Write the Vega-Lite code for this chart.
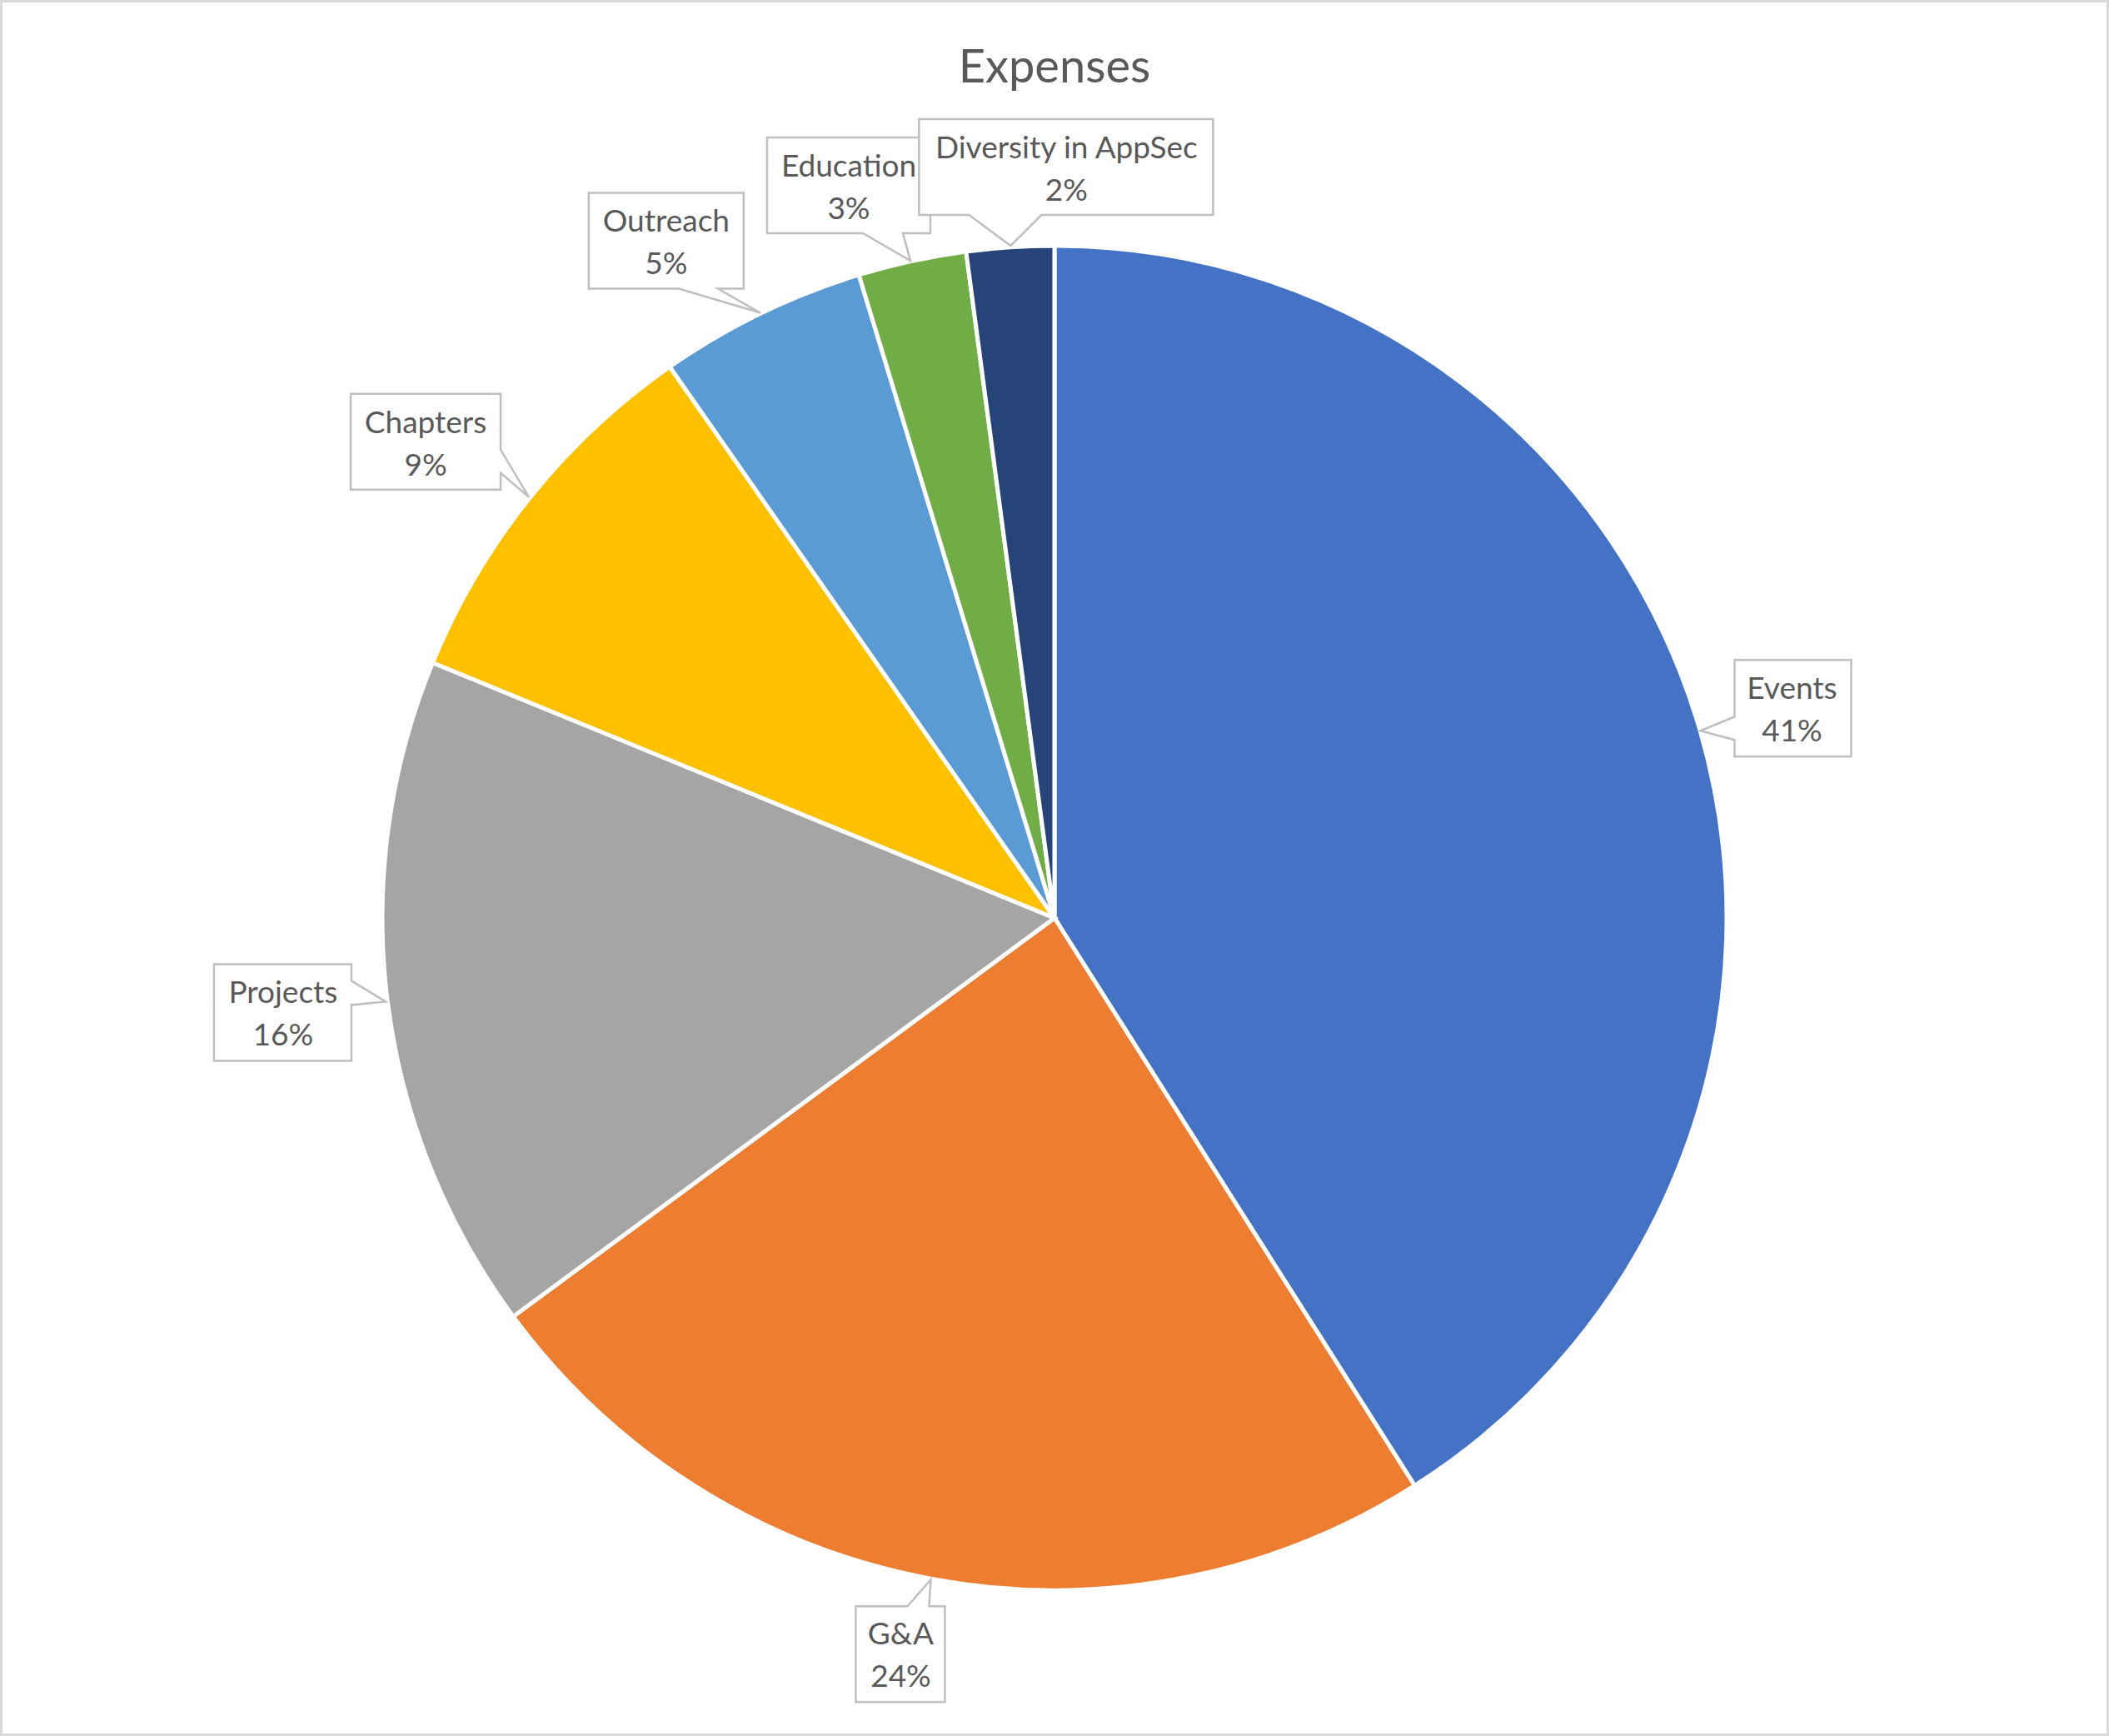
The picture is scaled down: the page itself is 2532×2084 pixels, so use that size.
{
  "$schema": "https://vega.github.io/schema/vega-lite/v6.json",
  "description": "Expenses pie chart with callout labels",
  "width": 2532,
  "height": 2084,
  "autosize": "none",
  "padding": 0,
  "background": "white",
  "title": {
    "text": "Expenses",
    "font": "Lato",
    "fontSize": 56,
    "fontWeight": "normal",
    "color": "#595959",
    "anchor": "middle",
    "baseline": "alphabetic",
    "offset": -155
  },
  "data": {
    "values": [
      {"category": "Events", "share": 0.410},
      {"category": "G&A", "share": 0.239},
      {"category": "Projects", "share": 0.163},
      {"category": "Chapters", "share": 0.091},
      {"category": "Outreach", "share": 0.050},
      {"category": "Education", "share": 0.026},
      {"category": "Diversity in AppSec", "share": 0.021}
    ]
  },
  "transform": [
    {"window": [{"op": "sum", "field": "share", "as": "cum"}], "sort": [{"field": "share", "order": "descending"}], "frame": [null, 0]},
    {"joinaggregate": [{"op": "sum", "field": "share", "as": "total"}]},
    {"calculate": "2 * PI * (datum.cum - datum.share / 2) / datum.total", "as": "mid"},
    {"calculate": "920 * sin(datum.mid)", "as": "lx"},
    {"calculate": "920 * cos(datum.mid)", "as": "ly"},
    {"calculate": "[datum.category, format(datum.share, '.0%')]", "as": "lines"}
  ],
  "layer": [
    {
      "mark": {"type": "arc", "outerRadius": 807, "stroke": "white", "strokeWidth": 5},
      "encoding": {
        "x": {"datum": 0, "type": "quantitative", "scale": {"domain": [-1266, 1266], "nice": false, "zero": false}, "axis": null},
        "y": {"datum": 0, "type": "quantitative", "scale": {"domain": [-982, 1102], "nice": false, "zero": false}, "axis": null},
        "theta": {"field": "share", "type": "quantitative", "stack": true},
        "order": {"field": "share", "sort": "descending"},
        "color": {
          "field": "category",
          "type": "nominal",
          "scale": {
            "domain": ["Events", "G&A", "Projects", "Chapters", "Outreach", "Education", "Diversity in AppSec"],
            "range": ["#4472C4", "#ED7D31", "#A5A5A5", "#FFC000", "#5B9BD5", "#70AD47", "#264478"]
          },
          "legend": null
        }
      }
    },
    {
      "mark": {"type": "point", "filled": true, "fill": "white", "stroke": "#bfbfbf", "strokeWidth": 2.5, "opacity": 1, "fillOpacity": 1, "strokeOpacity": 1, "size": 4},
      "encoding": {
        "x": {"field": "lx", "type": "quantitative", "axis": null},
        "y": {"field": "ly", "type": "quantitative", "axis": null},
        "shape": {
          "field": "category",
          "type": "nominal",
          "scale": {
            "domain": ["Events", "G&A", "Projects", "Chapters", "Outreach", "Education", "Diversity in AppSec"],
            "range": [
              "M-67,-53H73V63H-67V43L-108,32L-67,15Z",
              "M-69,-78H-7L21,-110L19,-78H38V37H-69Z",
              "M-96,-57H69V-37L110,-12L69,-8V59H-96Z",
              "M-127,-54H53V13L87,70L53,41V61H-127Z",
              "M-157,-43H29V72H-2L49,101L-49,72H-157Z",
              "M-150,-38H46V77H13L22,110L-35,77H-150Z",
              "M-102,-41H251V74H45L8,111L-42,74H-102Z"
            ]
          },
          "legend": null
        }
      }
    },
    {
      "transform": [{"filter": "datum.category === 'Events'"}],
      "mark": {"type": "text", "font": "Lato", "fontSize": 37, "color": "#595959", "lineHeight": 51, "align": "center", "baseline": "middle", "dx": 2, "dy": -17},
      "encoding": {"x": {"field": "lx", "type": "quantitative"}, "y": {"field": "ly", "type": "quantitative"}, "text": {"field": "lines"}}
    },
    {
      "transform": [{"filter": "datum.category === 'G&A'"}],
      "mark": {"type": "text", "font": "Lato", "fontSize": 37, "color": "#595959", "lineHeight": 51, "align": "center", "baseline": "middle", "dx": -15, "dy": -43},
      "encoding": {"x": {"field": "lx", "type": "quantitative"}, "y": {"field": "ly", "type": "quantitative"}, "text": {"field": "lines"}}
    },
    {
      "transform": [{"filter": "datum.category === 'Projects'"}],
      "mark": {"type": "text", "font": "Lato", "fontSize": 37, "color": "#595959", "lineHeight": 51, "align": "center", "baseline": "middle", "dx": -13, "dy": -21},
      "encoding": {"x": {"field": "lx", "type": "quantitative"}, "y": {"field": "ly", "type": "quantitative"}, "text": {"field": "lines"}}
    },
    {
      "transform": [{"filter": "datum.category === 'Chapters'"}],
      "mark": {"type": "text", "font": "Lato", "fontSize": 37, "color": "#595959", "lineHeight": 51, "align": "center", "baseline": "middle", "dx": -37, "dy": -18},
      "encoding": {"x": {"field": "lx", "type": "quantitative"}, "y": {"field": "ly", "type": "quantitative"}, "text": {"field": "lines"}}
    },
    {
      "transform": [{"filter": "datum.category === 'Outreach'"}],
      "mark": {"type": "text", "font": "Lato", "fontSize": 37, "color": "#595959", "lineHeight": 51, "align": "center", "baseline": "middle", "dx": -64, "dy": -8},
      "encoding": {"x": {"field": "lx", "type": "quantitative"}, "y": {"field": "ly", "type": "quantitative"}, "text": {"field": "lines"}}
    },
    {
      "transform": [{"filter": "datum.category === 'Education'"}],
      "mark": {"type": "text", "font": "Lato", "fontSize": 37, "color": "#595959", "lineHeight": 51, "align": "center", "baseline": "middle", "dx": -52, "dy": -2},
      "encoding": {"x": {"field": "lx", "type": "quantitative"}, "y": {"field": "ly", "type": "quantitative"}, "text": {"field": "lines"}}
    },
    {
      "transform": [{"filter": "datum.category === 'Diversity in AppSec'"}],
      "mark": {"type": "text", "font": "Lato", "fontSize": 37, "color": "#595959", "lineHeight": 51, "align": "center", "baseline": "middle", "dx": 75, "dy": -5},
      "encoding": {"x": {"field": "lx", "type": "quantitative"}, "y": {"field": "ly", "type": "quantitative"}, "text": {"field": "lines"}}
    }
  ],
  "config": {
    "view": {"stroke": "#d9d9d9", "strokeWidth": 6}
  }
}
